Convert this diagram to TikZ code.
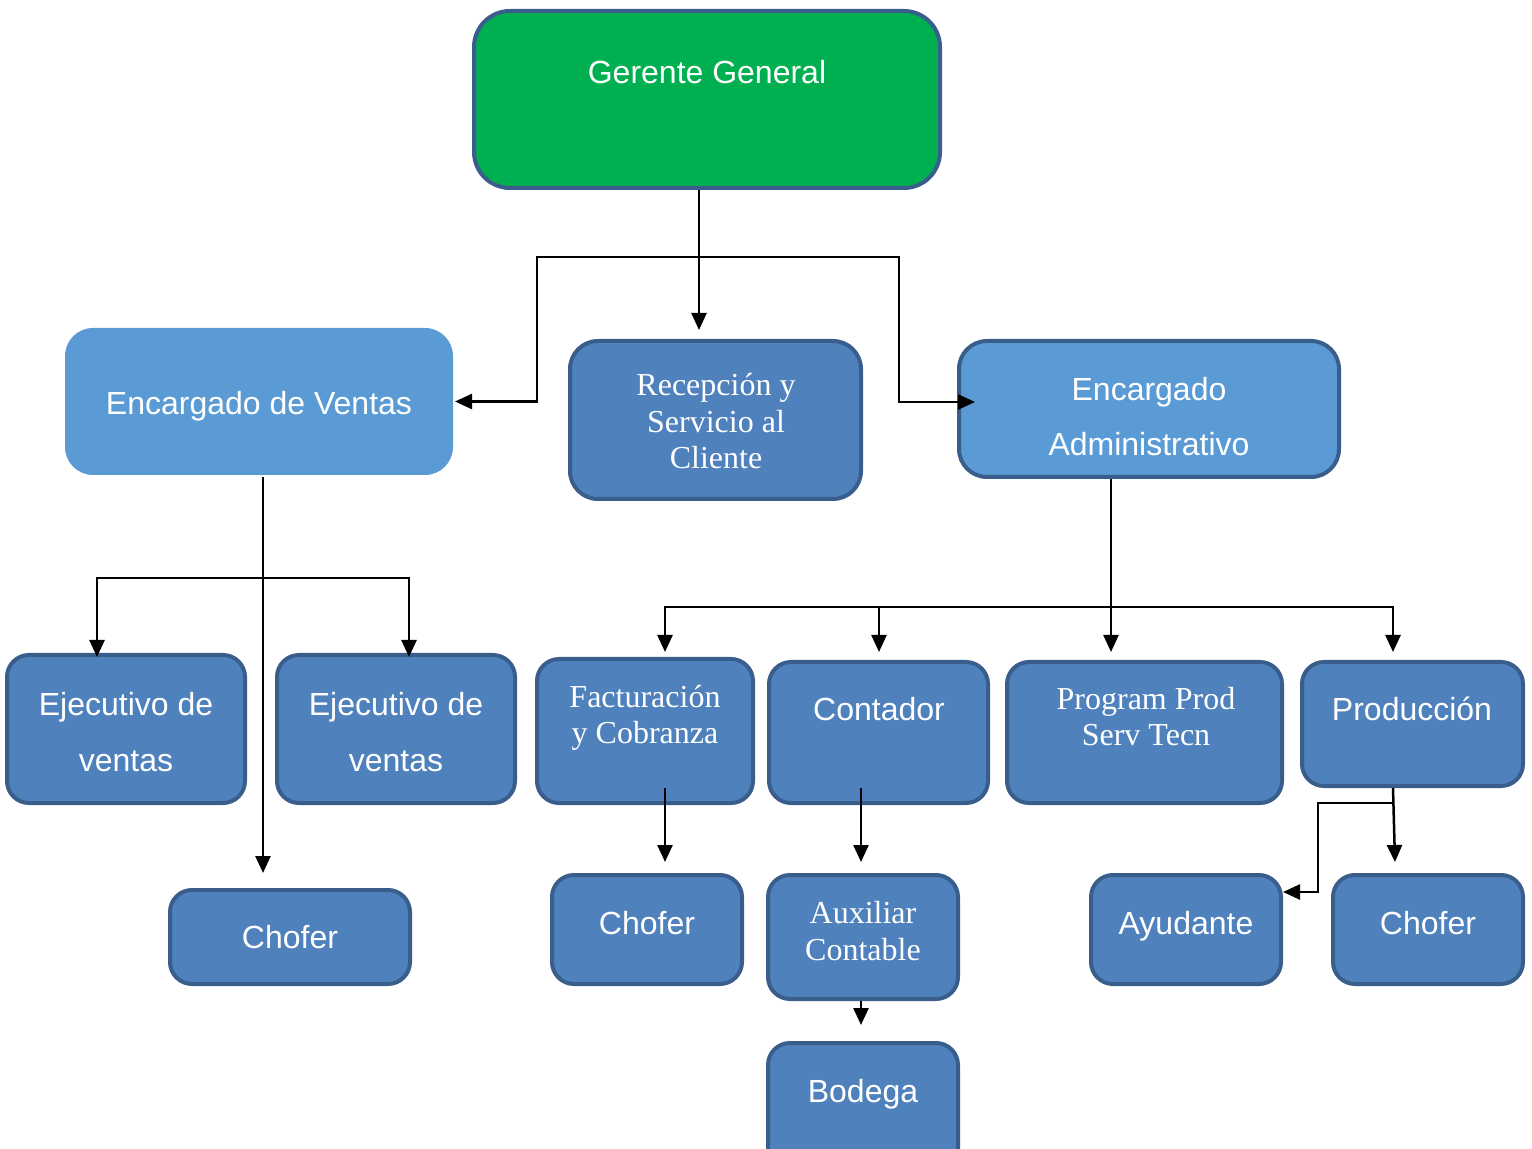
\documentclass[tikz,border=0pt]{standalone}
\usepackage{fontspec}
\setmainfont{Liberation Serif}
\setsansfont{Liberation Sans}
\usetikzlibrary{arrows.meta,fit}
\definecolor{cGreen}{HTML}{00B050}
\definecolor{cLight}{HTML}{5B9BD5}
\definecolor{cMed}{HTML}{4F81BD}
\definecolor{cBorder}{HTML}{3A5E8C}
\begin{document}
\begin{tikzpicture}[x=0.5pt,y=-0.5pt,
  box/.style={draw=cBorder, line width=2pt, fill=cMed, rounded corners=11pt, inner sep=0pt},
  st/.style={text=white, font=\sffamily\fontsize{16}{27.75}\selectfont, align=center, anchor=base, inner sep=0pt},
  rt/.style={text=white, font=\rmfamily\fontsize{16}{18.25}\selectfont, align=center, anchor=base, inner sep=0pt},
  ln/.style={draw=black, line width=1.25pt},
  arr/.style={ln, -{Triangle[width=7.5pt,length=8.5pt]}}]
\useasboundingbox (0,0) rectangle (1532,1149);
\clip (0,0) rectangle (1532,1149);
% boxes
\node[box, fill=cGreen, rounded corners=18pt, fit={(474,11)(940,188)}] (gg) {};
\node[box, draw=none, fill=cLight, rounded corners=14pt, fit={(65,328)(453,475)}] (ven) {};
\node[box, rounded corners=14pt, fit={(570,341)(861,499)}] (rec) {};
\node[box, fill=cLight, rounded corners=14pt, fit={(959,341)(1339,477)}] (adm) {};
\node[box, fit={(7,655)(245,803)}] (ej1) {};
\node[box, fit={(277,655)(515,803)}] (ej2) {};
\node[box, fit={(170,890)(410,984)}] (chl) {};
\node[box, fit={(537,659)(753,803)}] (fac) {};
\node[box, fit={(769,662)(988,803)}] (con) {};
\node[box, fit={(1007,662)(1282,803)}] (prog) {};
\node[box, fit={(1302,662)(1523,786)}] (prod) {};
\node[box, fit={(552,875)(742,984)}] (chm) {};
\node[box, fit={(768,875)(958,999)}] (aux) {};
\node[box, fit={(768,1043)(958,1190)}] (bod) {};
\node[box, fit={(1091,875)(1281,984)}] (ayu) {};
\node[box, fit={(1333,875)(1523,984)}] (chr) {};
% texts (anchor base = baseline of last line)
\node[st] (tgg) at (707,84) {Gerente General};
\node[st] (tven) at (259,415) {Encargado de Ventas};
\node[rt] (trec) at (716,469) {Recepción y\\Servicio al\\Cliente};
\node[st] (tadm) at (1149,456) {Encargado\\Administrativo};
\node[st] (tej1) at (126,771) {Ejecutivo de\\ventas};
\node[st] (tej2) at (396,771) {Ejecutivo de\\ventas};
\node[st] (tchl) at (290,948) {Chofer};
\node[rt] (tfac) at (645,744) {Facturación\\y Cobranza};
\node[st] (tcon) at (879,721) {Contador};
\node[rt] (tprog) at (1146,746) {Program Prod\\Serv Tecn};
\node[st] (tprod) at (1412,721) {Producción};
\node[st] (tchm) at (647,934) {Chofer};
\node[rt] (taux) at (863,960) {Auxiliar\\Contable};
\node[st] (tbod) at (863,1102) {Bodega};
\node[st] (tayu) at (1186,934) {Ayudante};
\node[st] (tchr) at (1428,934) {Chofer};
% junction coordinates
\coordinate (g0) at (699,257);
\coordinate (gL) at (537,257);
\coordinate (gR) at (899,257);
\coordinate (recIn) at (699,330);
\coordinate (admIn) at (975,402);
\coordinate (v0) at (263,578);
\coordinate (vL) at (97,578);
\coordinate (vR) at (409,578);
\coordinate (ej1In) at (97,657);
\coordinate (ej2In) at (409,657);
\coordinate (chlIn) at (263,873);
\coordinate (a0) at (1111,607);
\coordinate (aL) at (665,607);
\coordinate (aC) at (879,607);
\coordinate (aR) at (1393,607);
\coordinate (facIn) at (665,652);
\coordinate (conIn) at (879,652);
\coordinate (progIn) at (1111,652);
\coordinate (prodIn) at (1393,652);
\coordinate (facOut) at (665,788);
\coordinate (chmIn) at (665,862);
\coordinate (conOut) at (861,788);
\coordinate (auxIn) at (861,862);
\coordinate (prodOut) at (1393,788);
\coordinate (chrIn) at (1395,862);
\coordinate (p0) at (1393,803);
\coordinate (pL) at (1318,803);
\coordinate (ayuIn) at (1283,892);
\coordinate (auxOut) at (861,1001);
\coordinate (bodIn) at (861,1025);
% connectors
\draw[arr] (gg.south -| g0) -- (recIn);
\draw[arr] (g0) -| (gL) |- (ven.east);
\draw[arr] (g0) -| (gR) |- (admIn);
\draw[arr] (ven.south -| v0) -- (chlIn);
\draw[arr] (v0) -| (ej1In);
\draw[arr] (v0) -| (ej2In);
\draw[arr] (adm.south -| a0) -- (progIn);
\draw[arr] (a0) -| (facIn);
\draw[arr] (aC) -- (conIn);
\draw[arr] (a0) -| (prodIn);
\draw[arr] (facOut) -- (chmIn);
\draw[arr] (conOut) -- (auxIn);
\draw[arr] (prodOut) -- (chrIn);
\draw[arr] (p0) -| (pL) |- (ayuIn);
\draw[arr] (auxOut) -- (bodIn);
\end{tikzpicture}
\end{document}
